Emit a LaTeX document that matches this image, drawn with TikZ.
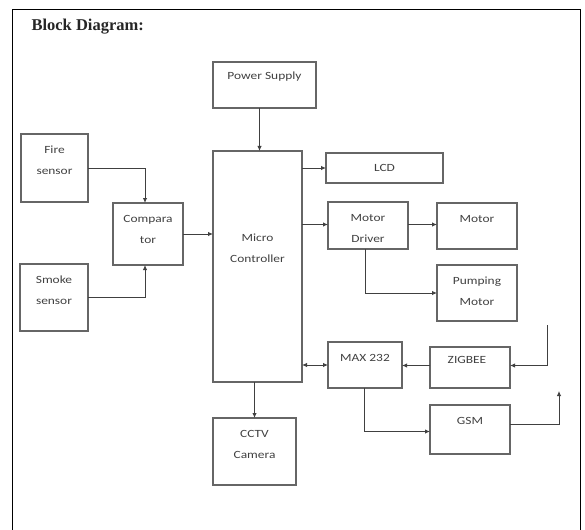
\documentclass[tikz,border=0pt]{standalone}
\usepackage{fontspec}
\setmainfont{Liberation Serif}
\newfontfamily\blkfont[FakeStretch=1.22]{Carlito}
\usetikzlibrary{arrows.meta,positioning,calc}

\tikzset{
  blk/.style 2 args={draw=black!60,line width=1.2pt,minimum width=#1,minimum height=#2,
    anchor=north west,inner sep=0pt,outer sep=0pt},
  txt/.style={font=\blkfont\fontsize{11}{21}\selectfont,text=black!75,align=center,
    inner sep=0pt,anchor=base},
  conn/.style={draw=black!75,line width=0.9pt},
  tip/.tip={Latex[length=5pt,width=4.5pt]},
}

\begin{document}
\begin{tikzpicture}[x=1pt,y=-1pt]
  \useasboundingbox (0,0) rectangle (585,529);
  % frame and title
  \draw[line width=0.9pt] (12,535) -- (12,9) -- (580,9) -- (580,535);
  \node[anchor=base west,font=\bfseries\fontsize{16.5}{18}\selectfont,text=black!85] (title) at (28,31) {Block Diagram:};

  % blocks
  \node[blk={103}{46}] (ps) at (213,62) {};
  \node[blk={67}{68}] (fire) at (21,134) {};
  \node[blk={70}{62}] (comp) at (113,203) {};
  \node[blk={68}{67}] (smoke) at (20,264) {};
  \node[blk={89}{231}] (mc) at (213,151) {};
  \node[blk={83}{67}] (cctv) at (213,418) {};
  \node[blk={117}{30}] (lcd) at (326,153) {};
  \node[blk={80}{47}] (drv) at (328,202) {};
  \node[blk={80}{46}] (motor) at (437,203) {};
  \node[blk={80}{56}] (pump) at (437,265) {};
  \node[blk={74}{46}] (max) at (328,342) {};
  \node[blk={80}{41}] (zig) at (430,347) {};
  \node[blk={80}{49}] (gsm) at (430,405) {};

  % texts (base = last line)
  \node[txt] (pstxt) at ([yshift=-18pt]ps.north) {Power Supply};
  \node[txt] (firetxt) at ([yshift=-41pt]fire.north) {Fire\\sensor};
  \node[txt] (comptxt) at ([yshift=-40pt]comp.north) {Compara\\tor};
  \node[txt] (smoketxt) at ([yshift=-40pt]smoke.north) {Smoke\\sensor};
  \node[txt] (mctxt) at ([yshift=-111pt]mc.north) {Micro\\Controller};
  \node[txt] (cctvtxt) at ([yshift=-40pt]cctv.north) {CCTV\\Camera};
  \node[txt] (lcdtxt) at ([yshift=-19pt]lcd.north) {LCD};
  \node[txt] (drvtxt) at ([yshift=-40pt]drv.north) {Motor\\Driver};
  \node[txt] (motortxt) at ([yshift=-19pt]motor.north) {Motor};
  \node[txt] (pumptxt) at ([yshift=-40pt]pump.north) {Pumping\\Motor};
  \node[txt] (maxtxt) at ([yshift=-19pt]max.north) {MAX 232};
  \node[txt] (zigtxt) at ([xshift=-3pt,yshift=-16pt]zig.north) {ZIGBEE};
  \node[txt] (gsmtxt) at ([yshift=-19pt]gsm.north) {GSM};

  % antenna ends
  \coordinate (zin) at (547,325);
  \coordinate (gout) at (559,391);

  % connectors
  \draw[conn,-tip] (fire.east) -| ([xshift=-3pt]comp.north);
  \draw[conn,-tip] (smoke.east) -| ([xshift=-3pt]comp.south);
  \draw[conn,-tip] (comp.east) -- (comp.east -| mc.west);
  \draw[conn,-tip] ([xshift=-5pt]ps.south) -- ([xshift=-5pt]ps.south |- mc.north);
  \draw[conn,-tip] (cctv.north |- mc.south) -- (cctv.north);
  \draw[conn,-tip] (lcd.west -| mc.east) -- (lcd.west);
  \draw[conn,-tip] ([yshift=1pt]drv.west -| mc.east) -- ([yshift=1pt]drv.west);
  \draw[conn,-tip] ([yshift=1pt]drv.east) -- ([yshift=1pt]drv.east -| motor.west);
  \draw[conn,-tip] ([xshift=-3pt]drv.south) |- (pump.west);
  \draw[conn,tip-tip] (max.west -| mc.east) -- (max.west);
  \draw[conn,-tip] ([yshift=2pt]zig.west) -- ([yshift=2pt]zig.west -| max.east);
  \draw[conn,-tip] (zin) |- ([yshift=2pt]zig.east);
  \draw[conn,-tip] ([xshift=-1pt]max.south) |- ([yshift=-2pt]gsm.west);
  \draw[conn,-tip] ([yshift=5pt]gsm.east) -| (gout);
\end{tikzpicture}
\end{document}
